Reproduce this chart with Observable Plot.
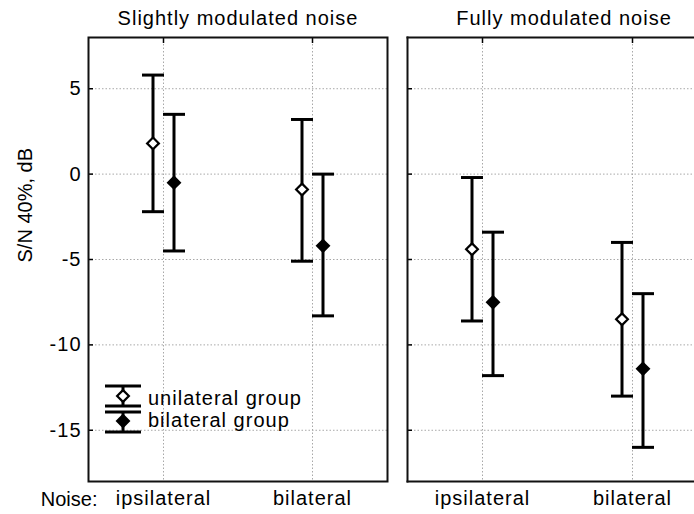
<!DOCTYPE html>
<html>
<head>
<meta charset="utf-8">
<script src="https://cdn.jsdelivr.net/npm/d3@7"></script>
<script src="https://cdn.jsdelivr.net/npm/@observablehq/plot@0.6"></script>
<style>
  body { margin: 0; background: white; overflow: hidden; }
  #chart { position: relative; width: 694px; height: 514px; overflow: hidden; background: white; }
  #chart svg text { letter-spacing: 1px; }
  #chart svg g.nospace text { letter-spacing: 0; }
  .panel { position: absolute; top: 0; height: 514px; }
  .panel svg { max-width: none !important; display: block; }
  #legend { position: absolute; left: 0; top: 0; pointer-events: none; }
</style>
</head>
<body>
<div id="chart"></div>
<script>
const panels = ["Slightly modulated noise", "Fully modulated noise"];
const noise = ["ipsilateral", "bilateral"];
const groups = ["unilateral group", "bilateral group"];
const yTicks = [-15, -10, -5, 0, 5];

// Slightly modulated noise
const slightUniMean = [1.8, -0.9];
const slightUniLow  = [-2.2, -5.1];
const slightUniHigh = [5.8, 3.2];
const slightBiMean  = [-0.5, -4.2];
const slightBiLow   = [-4.5, -8.3];
const slightBiHigh  = [3.5, 0.0];

// Fully modulated noise
const fullUniMean = [-4.4, -8.5];
const fullUniLow  = [-8.6, -13.0];
const fullUniHigh = [-0.2, -4.0];
const fullBiMean  = [-7.5, -11.4];
const fullBiLow   = [-11.8, -16.0];
const fullBiHigh  = [-3.4, -7.0];

function rows(mean, low, high, group) {
  return noise.map((n, i) => ({noise: n, group, mean: mean[i], low: low[i], high: high[i]}));
}

const FONT = "'Liberation Sans', Arial, Helvetica, sans-serif";
const OFF = 10.5;

// horizontal cap symbol (half-length = r)
const capSymbol = {
  draw(context, size) {
    const h = Math.sqrt(size / Math.PI);
    context.moveTo(-h, 0);
    context.lineTo(h, 0);
  }
};

function errorMarks(data, dx, fill) {
  return [
    Plot.ruleX(data, {x: "noise", y1: "low", y2: "high", dx, stroke: "black", strokeWidth: 3}),
    Plot.dot(data, {x: "noise", y: "low", dx, symbol: capSymbol, r: 11, stroke: "black", strokeWidth: 3, fill: "none"}),
    Plot.dot(data, {x: "noise", y: "high", dx, symbol: capSymbol, r: 11, stroke: "black", strokeWidth: 3, fill: "none"}),
    Plot.dot(data, {x: "noise", y: "mean", dx, symbol: "diamond2", r: 5.3, fill, stroke: "black", strokeWidth: 2.2})
  ];
}

function panel(title, uni, bi, left, opts) {
  const frameMarks = opts.openRight
    ? ["left", "top", "bottom"].map(a => Plot.frame({anchor: a, stroke: "#111", strokeWidth: 2}))
    : [Plot.frame({stroke: "#111", strokeWidth: 2})];
  const marks = [
    Plot.gridY(yTicks, {stroke: "#a8a8a8", strokeOpacity: 1, strokeDasharray: "1.5,2"}),
    Plot.gridX(noise, {stroke: "#a8a8a8", strokeOpacity: 1, strokeDasharray: "1.5,2"}),
    Plot.axisX({anchor: "bottom", tickSize: 0, tickPadding: 9, label: null, fontSize: 20}),
    Plot.axisY({anchor: "left", ticks: yTicks, tickSize: -5, tickFormat: () => "", label: null, strokeWidth: 1.5}),
    Plot.axisX({anchor: "top", tickSize: -5, tickFormat: () => "", label: null, strokeWidth: 1.5}),
    ...frameMarks,
    ...errorMarks(uni, -OFF, "white"),
    ...errorMarks(bi, OFF, "black"),
    Plot.text([title], {text: d => d, frameAnchor: "top", lineAnchor: "bottom", dy: -12.5, dx: opts.titleDx, fontSize: 20})
  ];
  if (left) {
    marks.push(
      Plot.axisY({anchor: "left", ticks: yTicks, tickSize: 0, tickPadding: 7, tickFormat: d => String(d), label: null, fontSize: 20}),
      Plot.text(["S/N 40%, dB"], {text: d => d, frameAnchor: "left", rotate: -90, dx: -63, dy: 3, fontSize: 20, className: "nospace"}),
      Plot.text(["Noise:"], {text: d => d, frameAnchor: "bottom-left", textAnchor: "end", lineAnchor: "bottom", dx: 9, dy: 24, fontSize: 20, className: "nospace"})
    );
  }
  const svg = Plot.plot({
    width: opts.width,
    height: 514,
    marginLeft: opts.ml,
    marginRight: opts.mr,
    marginTop: 37,
    marginBottom: 33,
    x: {type: "point", domain: noise, padding: 0.5, axis: null, range: opts.xRange},
    y: {domain: [-18, 8], axis: null},
    style: {fontFamily: FONT, fontSize: "20px", background: "transparent", overflow: "visible", color: "black", maxWidth: "none"},
    marks
  });
  const wrap = document.createElement("div");
  wrap.className = "panel";
  wrap.style.left = opts.left + "px";
  wrap.style.width = opts.width + "px";
  wrap.appendChild(svg);
  return wrap;
}

const chart = document.getElementById("chart");
chart.appendChild(panel(panels[0],
  rows(slightUniMean, slightUniLow, slightUniHigh, groups[0]),
  rows(slightBiMean, slightBiLow, slightBiHigh, groups[1]),
  true, {left: 0, width: 400, ml: 88, mr: 13, titleDx: 0, xRange: undefined, openRight: false}));
chart.appendChild(panel(panels[1],
  rows(fullUniMean, fullUniLow, fullUniHigh, groups[0]),
  rows(fullBiMean, fullBiLow, fullBiHigh, groups[1]),
  false, {left: 387, width: 307, ml: 20, mr: 0, titleDx: 13, xRange: [20, 320], openRight: true}));

// Legend (drawn as an overlay inside the left panel)
const legendRows = [
  {label: groups[0], fill: "white", cy: 396, y1: 386, y2: 406, ty: 405},
  {label: groups[1], fill: "black", cy: 421, y1: 412, y2: 432, ty: 427}
];
const lg = d3.select(chart).append("svg")
  .attr("id", "legend").attr("width", 694).attr("height", 514)
  .style("font-family", FONT).style("font-size", "20px");
const items = lg.selectAll("g").data(legendRows).join("g");
items.append("line").attr("x1", 123).attr("x2", 123).attr("y1", d => d.y1).attr("y2", d => d.y2)
  .attr("stroke", "black").attr("stroke-width", 3);
items.append("line").attr("x1", 105).attr("x2", 141).attr("y1", d => d.y1).attr("y2", d => d.y1)
  .attr("stroke", "black").attr("stroke-width", 3);
items.append("line").attr("x1", 105).attr("x2", 141).attr("y1", d => d.y2).attr("y2", d => d.y2)
  .attr("stroke", "black").attr("stroke-width", 3);
items.append("path").attr("d", d3.symbol(d3.symbolDiamond2, Math.PI * 5.3 * 5.3)())
  .attr("transform", d => `translate(123,${d.cy})`)
  .attr("fill", d => d.fill).attr("stroke", "black").attr("stroke-width", 2.2);
items.append("text").attr("x", 148).attr("y", d => d.ty).text(d => d.label)
  .style("letter-spacing", "1px").attr("fill", "black");
</script>
</body>
</html>
